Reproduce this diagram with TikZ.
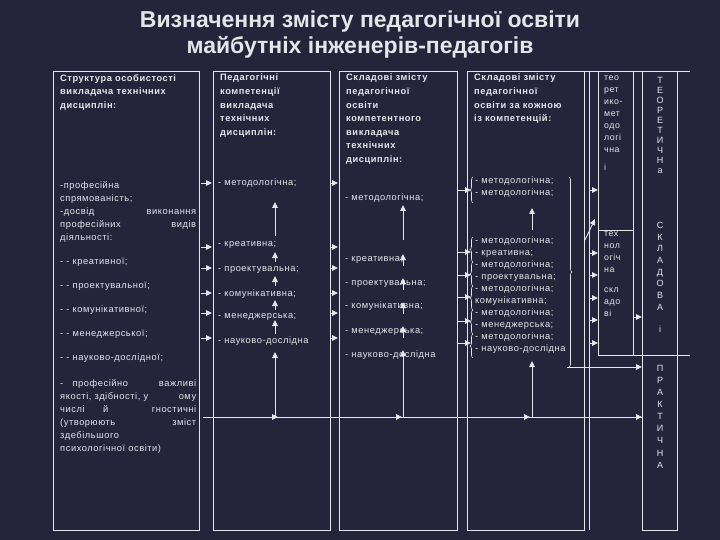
\documentclass[tikz,border=0pt]{standalone}
\usepackage{fontspec}
\setmainfont{Liberation Sans}
\newfontfamily\wide[LetterSpace=6]{Liberation Sans}
\usetikzlibrary{arrows.meta,decorations.pathreplacing}
\definecolor{bg}{HTML}{25243A}
\definecolor{fg}{HTML}{E6E6EA}
\tikzset{
 txt/.style={text=fg,font=\wide\fontsize{9.3}{13}\selectfont,inner sep=0pt,align=left},
 hdr/.style={txt,font=\wide\fontsize{9.3}{13.6}\selectfont\bfseries},
 box/.style={draw=fg,line width=0.8pt},
 arr/.style={draw=fg,line width=0.9pt,-{Triangle[length=6pt,width=5.5pt]}},
 ln/.style={draw=fg,line width=0.9pt},
 br/.style={draw=fg,line width=0.6pt,decorate,decoration={brace,amplitude=3pt}},
 let/.style={text=fg,font=\wide\fontsize{9}{10}\selectfont,inner sep=0pt}
}
\newcommand\jl[2]{\hbox to 136pt{#1\hfill #2}}
\begin{document}
\begin{tikzpicture}[x=1pt,y=-1pt]
\fill[bg] (0,0) rectangle (720,540);
\useasboundingbox (0,0) rectangle (720,540);
\node[text=fg,font=\fontsize{23}{26}\selectfont\bfseries,align=center] (title) at (360,35) {Визначення змісту педагогічної освіти\\майбутніх інженерів-педагогів};
% frames
\draw[box] (53,71) rectangle (199,530);
\draw[box] (213,71) rectangle (330,530);
\draw[box] (339,71) rectangle (457,530);
\draw[box] (467,71) rectangle (584,530);
\draw[ln] (589,71) -- (589,530);
\draw[box] (598,71) rectangle (633,230);
\draw[box] (598,230) rectangle (633,355);
\draw[box] (642,71) rectangle (677,530);
\draw[ln] (633,355) -- (690,355);
\draw[ln] (584,71) -- (690,71);
% column 1
\node[hdr,anchor=north west] (h1) at (60,74) {Структура особистості\\викладача технічних\\дисциплін:};
\node[txt,anchor=north west] (c1a) at (60,181) {-професійна\\спрямованість;\\\jl{-досвід}{виконання}\\\jl{професійних}{видів}\\діяльності:};
\node[txt,anchor=base west] (c1b) at (60,264) {- - креативної;};
\node[txt,anchor=base west] (c1c) at (60,288) {- - проектувальної;};
\node[txt,anchor=base west] (c1d) at (60,312) {- - комунікативної;};
\node[txt,anchor=base west] (c1e) at (60,336) {- - менеджерської;};
\node[txt,anchor=base west] (c1f) at (60,360) {- - науково-дослідної;};
\node[txt,anchor=north west] (c1g) at (60,379) {\jl{-\quad професійно}{важливі}\\\jl{якості, здібності, у}{ому}\\\jl{числі\qquad й}{гностичні}\\\jl{(утворюють}{зміст}\\здебільшого\\психологічної освіти)};
% column 2
\node[hdr,anchor=north west] (h2) at (220,74) {Педагогічні\\компетенції\\викладача\\технічних\\дисциплін:};
\foreach \n/\y/\t in {a/186/методологічна;,b/247/креативна;,c/271/проектувальна;,d/296/комунікативна;,e/318/менеджерська;,f/343/науково-дослідна}
 \node[txt,anchor=base west] (c2\n) at (218,\y) {- \t};
% column 3
\node[hdr,anchor=north west] (h3) at (346,74) {Складові змісту\\педагогічної\\освіти\\компетентного\\викладача\\технічних\\дисциплін:};
\foreach \n/\y/\t in {a/201/методологічна;,b/261/креативна;,c/285/проектувальна;,d/308/комунікативна;,e/333/менеджерська;,f/357/науково-дослідна}
 \node[txt,anchor=base west] (c3\n) at (345,\y) {- \t};
% column 4
\node[hdr,anchor=north west] (h4) at (474,74) {Складові змісту\\педагогічної\\освіти за кожною\\із компетенцій:};
\node[txt,anchor=north west,font=\wide\fontsize{9.3}{12}\selectfont] (c4a) at (475,177) {- методологічна;\\- методологічна;};
\node[txt,anchor=north west,font=\wide\fontsize{9.3}{12}\selectfont] (c4b) at (475,237) {- методологічна;\\- креативна;\\- методологічна;\\- проектувальна;\\- методологічна;\\комунікативна;\\- методологічна;\\- менеджерська;\\- методологічна;\\- науково-дослідна};
\foreach \a/\b in {177/203,237/262,262/286,286/310,310/334,334/358}
 \draw[br] (473,\b) -- (473,\a);
\draw[br] (569,177) -- (569,367);
% column 5
\node[txt,anchor=north west,font=\wide\fontsize{8.8}{12}\selectfont] (c5a) at (604,76) {тео\\рет\\ико-\\мет\\одо\\логі\\чна\\[6pt]і};
\node[txt,anchor=north west,font=\wide\fontsize{8.8}{12}\selectfont] (c5b) at (604,232) {тех\\нол\\огіч\\на\\[8pt]скл\\адо\\ві};
\node[let,anchor=north,align=center] (r1) at (660,77) {Т\\Е\\О\\Р\\Е\\Т\\И\\Ч\\Н\\а};
\node[let,anchor=north,align=center,font=\fontsize{9}{11.7}\selectfont] (r2) at (660,222) {С\\К\\Л\\А\\Д\\О\\В\\А\\[10pt]і};
\node[let,anchor=north,align=center,font=\fontsize{9}{12.1}\selectfont] (r3) at (660,365) {П\\Р\\А\\К\\Т\\И\\Ч\\Н\\А};
% arrows col1->col2->col3
\foreach \y in {183,247,268,293,313,338} {
 \draw[arr] (201,\y) -- (212,\y);
 \draw[arr] (330,\y) -- (338,\y);
}
\foreach \y in {190,252,275,297,321,343} \draw[arr] (458,\y) -- (471,\y);
\foreach \y in {190,253,275,298,320,343} \draw[arr] (589,\y) -- (598,\y);
\draw[arr] (585,240) -- (595,219);
\draw[arr] (633,317) -- (642,317);
% bottom horizontal lines
\draw[ln] (203,417) -- (642,417);
\foreach \x in {278,402,530,642} \draw[arr] (\x-8,417) -- (\x,417);
\draw[arr] (567,367) -- (642,367);
% vertical up-arrows col2
\draw[arr] (275,417) -- (275,352);
\draw[arr] (275,334) -- (275,320);
\draw[arr] (275,310) -- (275,300);
\draw[arr] (275,286) -- (275,276);
\draw[arr] (275,262) -- (275,252);
\draw[arr] (275,236) -- (275,202);
% col3
\draw[arr] (403,417) -- (403,350);
\draw[arr] (403,338) -- (403,326);
\draw[arr] (403,314) -- (403,302);
\draw[arr] (403,290) -- (403,278);
\draw[arr] (403,266) -- (403,254);
\draw[arr] (403,240) -- (403,205);
% col4
\draw[arr] (532,417) -- (532,361);
\draw[arr] (532,230) -- (532,208);
\end{tikzpicture}
\end{document}
